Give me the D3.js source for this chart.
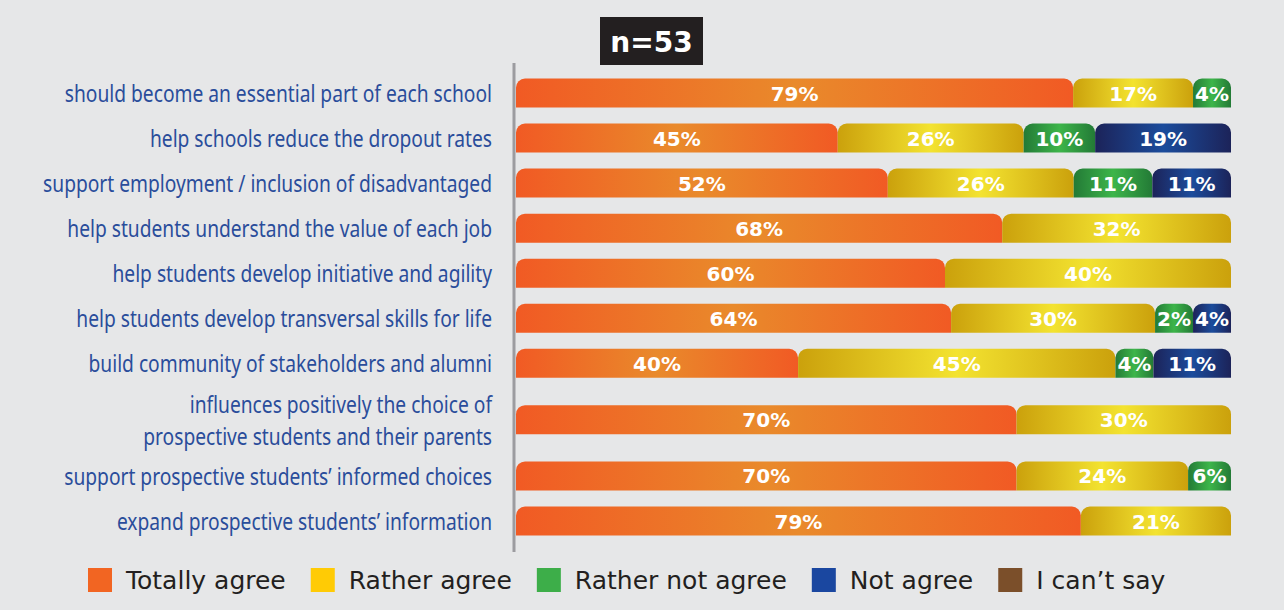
<!DOCTYPE html>
<html>
<head>
<meta charset="utf-8">
<script src="https://cdn.jsdelivr.net/npm/d3@7"></script>
<style>
  body { margin: 0; background: #e6e7e8; }
</style>
</head>
<body>
<svg id="chart" width="1284" height="610"></svg>
<script>
// statements (y categories), one or two lines each
var categories = [
  ["should become an essential part of each school"],
  ["help schools reduce the dropout rates"],
  ["support employment / inclusion of disadvantaged"],
  ["help students understand the value of each job"],
  ["help students develop initiative and agility"],
  ["help students develop transversal skills for life"],
  ["build community of stakeholders and alumni"],
  ["influences positively the choice of", "prospective students and their parents"],
  ["support prospective students\u2019 informed choices"],
  ["expand prospective students\u2019 information"]
];

var seriesNames = ["Totally agree", "Rather agree", "Rather not agree", "Not agree", "I can\u2019t say"];

// percentages per series, same order as categories
var totallyAgree   = [79, 45, 52, 68, 60, 64, 40, 70, 70, 79];
var ratherAgree    = [17, 26, 26, 32, 40, 30, 45, 30, 24, 21];
var ratherNotAgree = [ 4, 10, 11,  0,  0,  2,  4,  0,  6,  0];
var notAgree       = [ 0, 19, 11,  0,  0,  4, 11,  0,  0,  0];
var cantSay        = [ 0,  0,  0,  0,  0,  0,  0,  0,  0,  0];

var sampleLabel = "n=53";

var series = [totallyAgree, ratherAgree, ratherNotAgree, notAgree, cantSay];

// legend colours and bar gradients (edge, middle)
var legendColors = ["#f26522", "#ffcb05", "#3dae49", "#1a47a0", "#7b4f2a"];
var gradStops = [
  ["#f15a24", "#e98a2b"],
  ["#cba10c", "#f3e330"],
  ["#237a36", "#3db54a"],
  ["#1c2359", "#1b4c9c"],
  ["#6b3f1e", "#8b5a32"]
];

var svg = d3.select("#chart");

svg.append("rect").attr("width", 1284).attr("height", 610).attr("fill", "#e6e7e8");

// gradients
var defs = svg.append("defs");
gradStops.forEach(function(s, i) {
  var g = defs.append("linearGradient").attr("id", "grad" + i)
      .attr("x1", "0%").attr("x2", "100%").attr("y1", "0%").attr("y2", "0%");
  g.append("stop").attr("offset", "0%").attr("stop-color", s[0]);
  g.append("stop").attr("offset", "50%").attr("stop-color", s[1]);
  g.append("stop").attr("offset", "100%").attr("stop-color", s[0]);
});

// x scale: 0..100 %
var x = d3.scaleLinear().domain([0, 100]).range([516, 1231]);

// rows with two-line labels take more room
var weights = categories.map(function(c) { return c.length > 1 ? 1.5 : 1; });
var centers = [];
var acc = 0;
weights.forEach(function(w) { centers.push(acc + w / 2 - 0.5); acc += w; });
var y = d3.scaleLinear().domain([0, acc - 1]).range([93, 521]);

var barH = 29;

// path with rounded top corners only
function topRounded(x0, y0, w, h, r) {
  r = Math.min(r, w / 2, h);
  return "M" + x0 + "," + (y0 + h) +
    "V" + (y0 + r) +
    "A" + r + "," + r + " 0 0 1 " + (x0 + r) + "," + y0 +
    "H" + (x0 + w - r) +
    "A" + r + "," + r + " 0 0 1 " + (x0 + w) + "," + (y0 + r) +
    "V" + (y0 + h) + "Z";
}

var barFont = "'DejaVu Sans', sans-serif";
var barFontSize = 20;

// measuring text for small segments
var measure = svg.append("text")
    .attr("font-family", barFont)
    .attr("font-weight", "bold").attr("font-size", barFontSize)
    .attr("visibility", "hidden");
function textW(t) { measure.text(t); return measure.node().getComputedTextLength(); }

var total = x.range()[1] - x.range()[0];

// labels drawn in a narrowed group (the original uses a condensed face)
var labelScale = 0.8;
var labels = svg.append("g").attr("transform", "translate(492,0) scale(" + labelScale + ",1)");

categories.forEach(function(cat, i) {
  var vals = series.map(function(s) { return s[i]; });
  // minimum widths so labels fit, rest shared proportionally
  var widths = vals.map(function(v) { return x(v) - x(0); });
  var minW = vals.map(function(v) { return v > 0 ? textW(v + "%") + 4 : 0; });
  var fixed = 0, freeSum = 0;
  widths.forEach(function(w, k) {
    if (vals[k] > 0 && w < minW[k]) fixed += minW[k]; else freeSum += w;
  });
  var k2 = (total - fixed) / freeSum;
  var cx = x(0);
  var row = svg.append("g");
  vals.forEach(function(v, k) {
    if (!v) return;
    var w = widths[k] < minW[k] ? minW[k] : widths[k] * k2;
    row.append("path")
      .attr("d", topRounded(cx, y(centers[i]) - barH / 2, w, barH, 9))
      .attr("fill", "url(#grad" + k + ")");
    row.append("text")
      .attr("x", cx + w / 2)
      .attr("y", y(centers[i]) + 7.5)
      .attr("text-anchor", "middle")
      .attr("font-family", barFont)
      .attr("font-weight", "bold")
      .attr("font-size", barFontSize)
      .attr("fill", "#fff")
      .text(v + "%");
    cx += w;
  });

  // category label
  var lbl = labels.append("text")
      .attr("text-anchor", "end")
      .attr("font-family", "'Noto Sans', 'Open Sans', sans-serif")
      .attr("font-size", 24)
      .attr("fill", "#2a4d9b");
  var lineH = 32;
  cat.forEach(function(line, j) {
    lbl.append("tspan")
      .attr("x", 0)
      .attr("y", y(centers[i]) + 9 + (j - (cat.length - 1) / 2) * lineH)
      .text(line);
  });
});

measure.remove();

// vertical axis line
svg.append("line")
  .attr("x1", x(0) - 2).attr("x2", x(0) - 2)
  .attr("y1", 63).attr("y2", 552)
  .attr("stroke", "#9c9ca0").attr("stroke-width", 3);

// sample size box
svg.append("rect").attr("x", 600).attr("y", 17).attr("width", 103).attr("height", 48).attr("fill", "#231f20");
svg.append("text")
  .attr("x", 651.5).attr("y", 52)
  .attr("text-anchor", "middle")
  .attr("font-family", barFont)
  .attr("font-weight", "bold")
  .attr("font-size", 28)
  .attr("fill", "#fff")
  .text(sampleLabel);

// legend
var legend = svg.append("g");
var lx = 88;
seriesNames.forEach(function(name, i) {
  legend.append("rect")
    .attr("x", lx).attr("y", 568).attr("width", 24).attr("height", 24)
    .attr("fill", legendColors[i]);
  var t = legend.append("text")
    .attr("x", lx + 38).attr("y", 589)
    .attr("font-family", "'DejaVu Sans', sans-serif")
    .attr("font-size", 25)
    .attr("fill", "#231f20")
    .text(name);
  lx += 38 + t.node().getComputedTextLength() + 25;
});
</script>
</body>
</html>
